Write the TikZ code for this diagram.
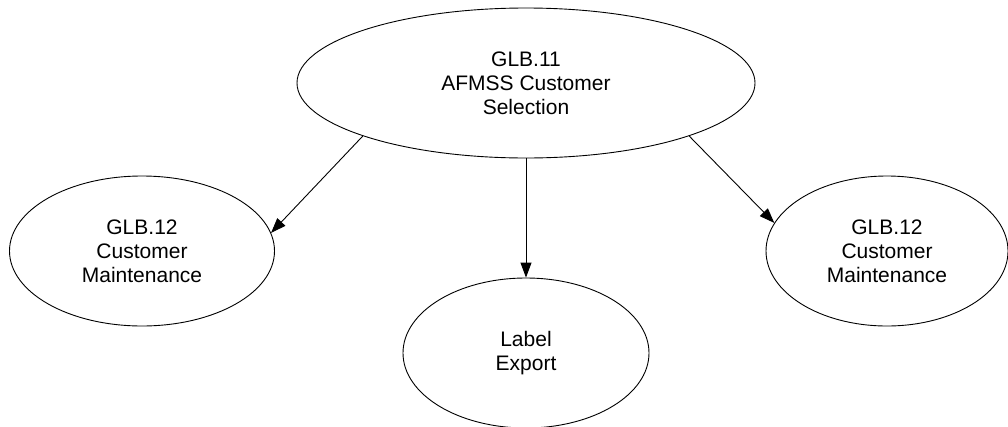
\documentclass[tikz,border=0pt]{standalone}
\usepackage{fontspec}
\setmainfont{Liberation Sans}
\usetikzlibrary{shapes.geometric,arrows.meta}
\begin{document}
\begin{tikzpicture}[x=1pt,y=-1pt,
  bubble/.style={draw=black,line width=0.9pt,ellipse,inner sep=0pt,align=center,
    font=\fontsize{21}{24}\selectfont},
  flow/.style={draw=black,line width=0.9pt,-{Triangle[length=15pt,width=11pt]}}]
\useasboundingbox (0,0) rectangle (1008,426);
\node[bubble,minimum width=458pt,minimum height=150pt] (top) at (526,83) {GLB.11\\AFMSS Customer\\Selection};
\node[bubble,minimum width=265pt,minimum height=150pt] (left) at (142,251) {GLB.12\\Customer\\Maintenance};
\node[bubble,minimum width=242pt,minimum height=150pt] (right) at (887,251) {GLB.12\\Customer\\Maintenance};
\node[bubble,minimum width=246pt,minimum height=150pt] (bot) at (526,353) {Label\\Export};
\draw[flow] (top.198) -- (left.8);
\draw[flow] (top.south) -- (bot.north);
\draw[flow] (top.342) -- (right.166);
\end{tikzpicture}
\end{document}
